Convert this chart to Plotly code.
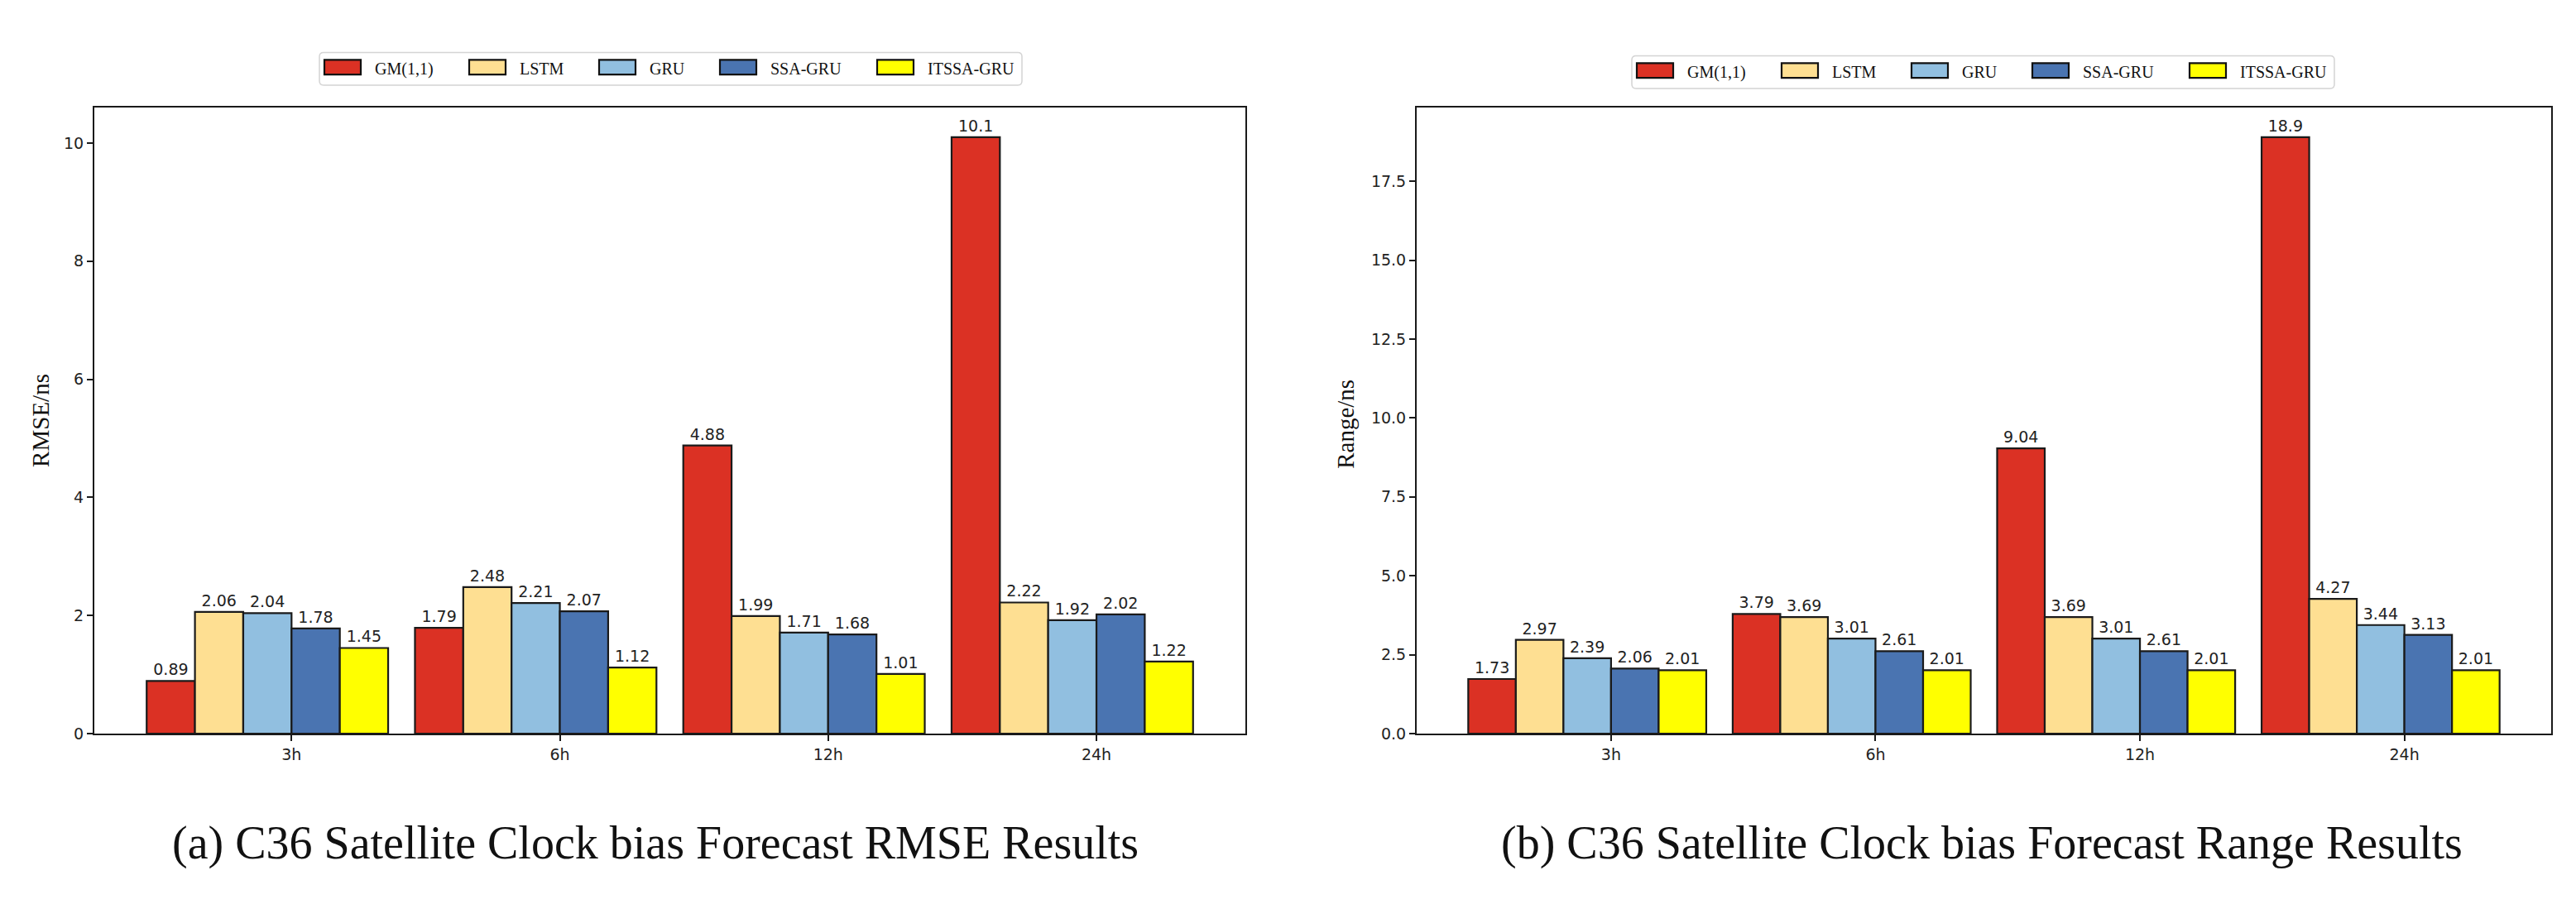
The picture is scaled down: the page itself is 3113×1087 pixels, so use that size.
import plotly.graph_objects as go

categories = ["3h", "6h", "12h", "24h"]
models = ["GM(1,1)", "LSTM", "GRU", "SSA-GRU", "ITSSA-GRU"]
colors = ["#db3124", "#fedf92", "#91bfe0", "#4a74b1", "#ffff00"]

rmse_gm = [0.89, 1.79, 4.88, 10.1]
rmse_lstm = [2.06, 2.48, 1.99, 2.22]
rmse_gru = [2.04, 2.21, 1.71, 1.92]
rmse_ssa = [1.78, 2.07, 1.68, 2.02]
rmse_itssa = [1.45, 1.12, 1.01, 1.22]

range_gm = [1.73, 3.79, 9.04, 18.9]
range_lstm = [2.97, 3.69, 3.69, 4.27]
range_gru = [2.39, 3.01, 3.01, 3.44]
range_ssa = [2.06, 2.61, 2.61, 3.13]
range_itssa = [2.01, 2.01, 2.01, 2.01]

rmse_series = [rmse_gm, rmse_lstm, rmse_gru, rmse_ssa, rmse_itssa]
range_series = [range_gm, range_lstm, range_gru, range_ssa, range_itssa]

W = 3113
H = 1087
bar_w = 0.18
tick_font = dict(family="DejaVu Sans", size=19, color="#222222")
serif = "Liberation Serif"


def px_x(p):
    return p / W


def px_y(p):
    return 1 - p / H


fig = go.Figure()

for series, xa, ya in [(rmse_series, "x", "y"), (range_series, "x2", "y2")]:
    for i, (name, vals) in enumerate(zip(models, series)):
        fig.add_trace(go.Bar(
            x=categories, y=vals, name=name,
            xaxis=xa, yaxis=ya, showlegend=False,
            width=bar_w, offset=-0.54 + i * bar_w,
            marker=dict(color=colors[i], line=dict(color="#1a1a1a", width=2.2)),
            text=[f"{v:g}" for v in vals], texttemplate="%{text}",
            textposition="outside", constraintext="none", cliponaxis=False,
            textfont=tick_font, outsidetextfont=tick_font,
        ))

axis_common = dict(
    showline=True, mirror=True, linecolor="#1a1a1a", linewidth=2,
    ticks="outside", ticklen=7, tickwidth=1.5, tickcolor="#1a1a1a",
    tickfont=tick_font, showgrid=False, zeroline=False,
)

ydom = [px_y(888), px_y(123)]
fig.update_layout(
    width=W, height=H,
    margin=dict(l=0, r=0, t=0, b=0),
    paper_bgcolor="white", plot_bgcolor="white",
    barmode="overlay",
    showlegend=False,
    xaxis=dict(domain=[px_x(106), px_x(1497)], type="category",
               range=[-0.735, 3.555], anchor="y", **axis_common),
    yaxis=dict(domain=ydom, range=[0, 10.605], anchor="x",
               tickvals=[0, 2, 4, 6, 8, 10], **axis_common),
    xaxis2=dict(domain=[px_x(1704), px_x(3075)], type="category",
                range=[-0.735, 3.555], anchor="y2", **axis_common),
    yaxis2=dict(domain=ydom, range=[0, 19.845], anchor="x2",
                tickvals=[0, 2.5, 5, 7.5, 10, 12.5, 15, 17.5],
                tickformat=".1f", **axis_common),
)

# ---- legends (drawn as a matplotlib-style box above each panel) ----
legend_boxes = [(378, 56), (1964, 60)]   # top-left corner (px) of each legend box
box_w, box_h, radius = 849, 40, 5
patch_dx = [6, 181, 338, 484, 674]
text_dx = [65, 240, 397, 543, 733]
patch_w, patch_top, patch_bot = 44, 9, 27

for bx, by in legend_boxes:
    x0, x1, y0, y1 = bx, bx + box_w, by, by + box_h
    r = radius
    pts = [
        f"M{px_x(x0 + r)},{px_y(y0)}",
        f"L{px_x(x1 - r)},{px_y(y0)}",
        f"Q{px_x(x1)},{px_y(y0)} {px_x(x1)},{px_y(y0 + r)}",
        f"L{px_x(x1)},{px_y(y1 - r)}",
        f"Q{px_x(x1)},{px_y(y1)} {px_x(x1 - r)},{px_y(y1)}",
        f"L{px_x(x0 + r)},{px_y(y1)}",
        f"Q{px_x(x0)},{px_y(y1)} {px_x(x0)},{px_y(y1 - r)}",
        f"L{px_x(x0)},{px_y(y0 + r)}",
        f"Q{px_x(x0)},{px_y(y0)} {px_x(x0 + r)},{px_y(y0)}",
        "Z",
    ]
    fig.add_shape(type="path", path=" ".join(pts), xref="paper", yref="paper",
                  line=dict(color="#d4d4d4", width=1.5), fillcolor="white",
                  layer="above")
    for i, name in enumerate(models):
        fig.add_shape(type="rect", xref="paper", yref="paper",
                      x0=px_x(bx + patch_dx[i]), x1=px_x(bx + patch_dx[i] + patch_w),
                      y0=px_y(by + patch_bot), y1=px_y(by + patch_top),
                      fillcolor=colors[i], line=dict(color="#111111", width=2.2),
                      layer="above")
        fig.add_annotation(xref="paper", yref="paper", showarrow=False,
                           x=px_x(bx + text_dx[i]), y=px_y(by + 20),
                           xanchor="left", yanchor="middle", text=name,
                           font=dict(family=serif, size=20, color="#111111"))

annotations = [
    dict(text="RMSE/ns", x=px_x(41), y=px_y(506), textangle=-90),
    dict(text="Range/ns", x=px_x(1618), y=px_y(510), textangle=-90),
]
for a in annotations:
    fig.add_annotation(xref="paper", yref="paper", showarrow=False,
                       xanchor="center", yanchor="middle",
                       font=dict(family=serif, size=29, color="#111111"), **a)

captions = [
    dict(text="(a) C36 Satellite Clock bias Forecast RMSE Results", x=px_x(795)),
    dict(text="(b) C36 Satellite Clock bias Forecast Range Results", x=px_x(2398)),
]
for c in captions:
    c["x"] -= 11 / W
    fig.add_annotation(xref="paper", yref="paper", showarrow=False,
                       xanchor="center", yanchor="middle", y=px_y(1022),
                       font=dict(family=serif, size=56, color="#111111"), **c)

fig.write_html("out.html")
